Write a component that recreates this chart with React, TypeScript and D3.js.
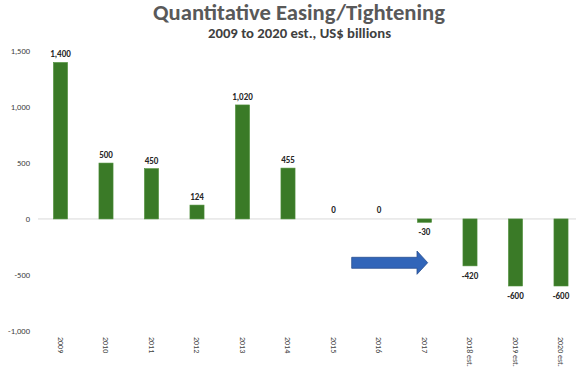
import React from "react";
import * as d3 from "d3";

const categories = ["2009", "2010", "2011", "2012", "2013", "2014", "2015", "2016", "2017", "2018 est.", "2019 est.", "2020 est."];
const values = [1400, 500, 450, 124, 1020, 455, 0, 0, -30, -420, -600, -600];
const yTicks = [-1000, -500, 0, 500, 1000, 1500];

const W = 576;
const H = 377;

export default function App() {
  const x = d3.scaleBand<string>().domain(categories).range([37.75, 583.75]).paddingInner(0.69).paddingOuter(0.345);
  const y = d3.scaleLinear().domain([-1000, 1500]).range([330.7, 51.3]);
  const fmt = (v: number) => d3.format(",")(v).replace("\u2212", "-");
  const font = "Carlito, Calibri, 'Open Sans', 'Liberation Sans', sans-serif";
  const bw = x.bandwidth();
  return (
    <svg width={W} height={H} style={{ position: "absolute", left: 0, top: 0, background: "#fff" }} fontFamily={font}>
      <text x={299} y={20} textAnchor="middle" fontSize={22} fontWeight={700} fill="#595959" textLength={292} lengthAdjust="spacingAndGlyphs">
        Quantitative Easing/Tightening
      </text>
      <text x={299.5} y={37.5} textAnchor="middle" fontSize={13} fontWeight={700} fill="#404040" textLength={183} lengthAdjust="spacingAndGlyphs">
        2009 to 2020 est., US$ billions
      </text>
      {yTicks.map((t) => (
        <text key={t} x={30} y={y(t)} dy="0.35em" textAnchor="end" fontSize={8.5} fill="#404040">
          {fmt(t)}
        </text>
      ))}
      <line x1={38} x2={W} y1={y(0)} y2={y(0)} stroke="#d9d9d9" strokeWidth={1} />
      {categories.map((c, i) => {
        const v = values[i];
        const x0 = x(c)!;
        const top = y(Math.max(0, v));
        const h = Math.abs(y(v) - y(0));
        const cx = x0 + bw / 2;
        const labelY = v > 0 ? y(v) - 5 : v < 0 ? y(v) + 13 : y(0) - 6;
        return (
          <g key={c}>
            {h > 0 && <rect x={x0} y={top} width={bw} height={h} fill="#3a7a27" stroke="#4e8f3a" strokeWidth={0.6} />}
            <text x={cx} y={labelY} textAnchor="middle" fontSize={9} fontWeight={600} fill="#262626">
              {fmt(v)}
            </text>
            <text transform={`translate(${cx - 3},337) rotate(90)`} fontSize={8} fill="#404040">
              {c}
            </text>
          </g>
        );
      })}
      <path
        d="M351.7,257.3 L417,257.3 L417,251 L427.7,262.7 L417,274.3 L417,268.3 L351.7,268.3 Z"
        fill="#3165b9"
        stroke="#2a4f8f"
        strokeWidth={0.8}
      />
    </svg>
  );
}
